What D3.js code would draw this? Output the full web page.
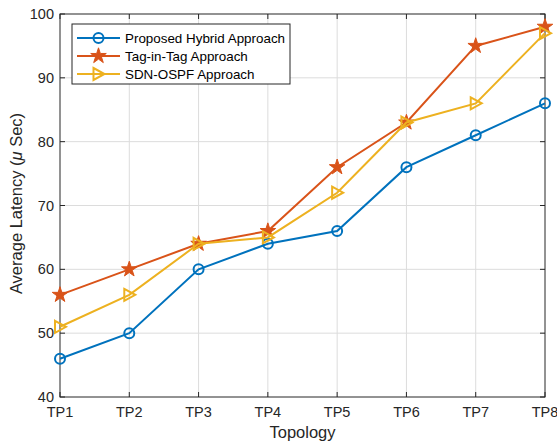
<!DOCTYPE html>
<html lang="en">
<head>
<meta charset="UTF-8">
<title>Average Latency vs Topology</title>
<style>
  body { margin: 0; background: #fff; }
  svg { display: block; font-family: Arial, "Liberation Sans", sans-serif; }
  .grid line { stroke: #dcdcdc; stroke-width: 1; }
  .tick-label { font-size: 14.5px; fill: #262626; }
  .axis-title { font-size: 16.5px; fill: #262626; }
  .legend-text { font-size: 13.4px; fill: #000; }
</style>
</head>
<body>
<svg id="chart" width="557" height="443"></svg>
<script src="https://d3js.org/d3.v7.min.js"></script>
<script>
// data
const topologies = ["TP1", "TP2", "TP3", "TP4", "TP5", "TP6", "TP7", "TP8"];
const hybridLatency = [46, 50, 60, 64, 66, 76, 81, 86];
const tagInTagLatency = [56, 60, 64, 66, 76, 83, 95, 98];
const sdnOspfLatency = [51, 56, 64, 65, 72, 83, 86, 97];
const yTicks = [40, 50, 60, 70, 80, 90, 100];
const seriesNames = ["Proposed Hybrid Approach", "Tag-in-Tag Approach", "SDN-OSPF Approach"];

const series = [
  { name: seriesNames[0], values: hybridLatency, color: "#0072BD", marker: "circle" },
  { name: seriesNames[1], values: tagInTagLatency, color: "#D95319", marker: "star" },
  { name: seriesNames[2], values: sdnOspfLatency, color: "#EDB120", marker: "triangle" }
];

const svg = d3.select("#chart");
const pLeft = 60, pRight = 545, pTop = 14, pBottom = 397;

const x = d3.scalePoint().domain(topologies).range([pLeft, pRight]);
const y = d3.scaleLinear().domain([40, 100]).range([pBottom, pTop]);

// grid
const grid = svg.append("g").attr("class", "grid");
grid.selectAll(".gx").data(topologies.slice(1, -1)).enter().append("line")
  .attr("x1", d => x(d)).attr("x2", d => x(d)).attr("y1", pTop).attr("y2", pBottom);
grid.selectAll(".gy").data(yTicks.slice(1, -1)).enter().append("line")
  .attr("x1", pLeft).attr("x2", pRight).attr("y1", d => y(d)).attr("y2", d => y(d));

// axes box with inward ticks (matlab style)
const axisColor = "#262626";
const ax = svg.append("g").attr("stroke", axisColor).attr("stroke-width", 1);
ax.append("rect").attr("x", pLeft).attr("y", pTop).attr("width", pRight - pLeft).attr("height", pBottom - pTop)
  .attr("fill", "none");
topologies.forEach(t => {
  ax.append("line").attr("x1", x(t)).attr("x2", x(t)).attr("y1", pBottom).attr("y2", pBottom - 5);
  ax.append("line").attr("x1", x(t)).attr("x2", x(t)).attr("y1", pTop).attr("y2", pTop + 5);
});
yTicks.forEach(v => {
  ax.append("line").attr("x1", pLeft).attr("x2", pLeft + 5).attr("y1", y(v)).attr("y2", y(v));
  ax.append("line").attr("x1", pRight).attr("x2", pRight - 5).attr("y1", y(v)).attr("y2", y(v));
});

// tick labels
svg.selectAll(".xl").data(topologies).enter().append("text")
  .attr("class", "tick-label").attr("x", d => x(d)).attr("y", pBottom + 20)
  .attr("text-anchor", "middle").text(d => d);
svg.selectAll(".yl").data(yTicks).enter().append("text")
  .attr("class", "tick-label").attr("x", pLeft - 6).attr("y", d => y(d) + 5)
  .attr("text-anchor", "end").text(d => d);

// axis titles
svg.append("text").attr("class", "axis-title").attr("x", (pLeft + pRight) / 2).attr("y", 438)
  .attr("text-anchor", "middle").text("Topology");
const yt = svg.append("text").attr("class", "axis-title")
  .attr("transform", `translate(22,${(pTop + pBottom) / 2 - 2}) rotate(-90)`)
  .attr("text-anchor", "middle");
yt.append("tspan").text("Average Latency (");
yt.append("tspan").attr("font-style", "italic").text("\u03bc");
yt.append("tspan").text(" Sec)");

// markers
function drawMarker(g, type, color) {
  if (type === "circle") {
    g.append("circle").attr("r", 5).attr("fill", "none").attr("stroke", color).attr("stroke-width", 2);
  } else if (type === "star") {
    g.append("path").attr("d", d3.symbol(d3.symbolStar, 75)())
      .attr("fill", color).attr("stroke", color).attr("stroke-width", 1);
  } else {
    g.append("path").attr("d", "M-5,-6L6,0L-5,6Z")
      .attr("fill", "none").attr("stroke", color).attr("stroke-width", 2);
  }
}

const line = d3.line().x((d, i) => x(topologies[i])).y(d => y(d));
series.forEach(s => {
  svg.append("path").datum(s.values).attr("d", line)
    .attr("fill", "none").attr("stroke", s.color).attr("stroke-width", 2);
  s.values.forEach((v, i) => {
    const g = svg.append("g").attr("transform", `translate(${x(topologies[i])},${y(v)})`);
    drawMarker(g, s.marker, s.color);
  });
});

// legend
const lg = svg.append("g");
lg.append("rect").attr("x", 72).attr("y", 24).attr("width", 218).attr("height", 60)
  .attr("fill", "#fff").attr("stroke", axisColor).attr("stroke-width", 1);
series.forEach((s, i) => {
  const ly = 38 + i * 18;
  lg.append("line").attr("x1", 77).attr("x2", 120).attr("y1", ly).attr("y2", ly)
    .attr("stroke", s.color).attr("stroke-width", 2);
  const g = lg.append("g").attr("transform", `translate(98.5,${ly})`);
  drawMarker(g, s.marker, s.color);
  lg.append("text").attr("class", "legend-text").attr("x", 125).attr("y", ly + 5).text(s.name);
});
</script>
</body>
</html>
